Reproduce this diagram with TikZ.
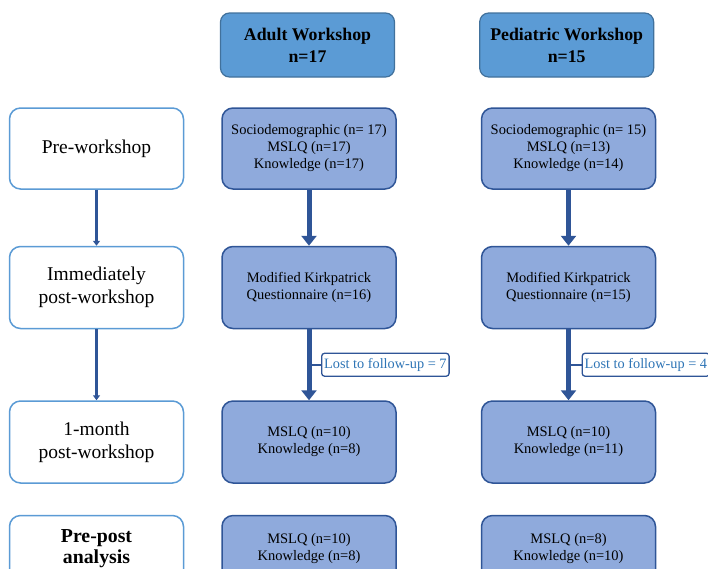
\documentclass[tikz,border=0pt]{standalone}
\usepackage{fontspec}
\setmainfont{Liberation Serif}
\usepackage{tikz}
\usetikzlibrary{arrows.meta,shapes,positioning,calc}
\usepackage{xcolor}
\definecolor{wsblue}{RGB}{47,85,151}
\definecolor{wsmidblue}{RGB}{91,155,213}
\definecolor{wsheadline}{RGB}{65,113,156}
\definecolor{wslightblue}{RGB}{143,170,220}
\definecolor{wstextblue}{RGB}{46,117,182}
\tikzstyle{thinarrow} = [line width=2.5pt,-{Triangle[width=7pt,length=5pt]},color=wsblue]
\tikzstyle{fatarrow} = [line width=5pt,-{Triangle[width=15pt,length=10pt]},color=wsblue]
\tikzstyle{branch} = [line width=2pt,color=wsblue]
\tikzstyle{headbox} = [rectangle, rounded corners=9pt, minimum width=174pt, minimum height=64pt, align=center, draw=wsheadline, fill=wsmidblue, line width=1.2pt, font=\fontsize{17.8}{22}\selectfont\bfseries]
\tikzstyle{phasebox} = [rectangle, rounded corners=11pt, minimum width=174pt, minimum height=81pt, align=center, draw=wsmidblue, fill=white, line width=1.5pt, font=\fontsize{19.5}{23}\selectfont]
\tikzstyle{databox} = [rectangle, rounded corners=11pt, minimum width=174pt, minimum height=81pt, align=center, draw=wsblue, fill=wslightblue, line width=1.5pt, font=\fontsize{14.5}{17}\selectfont]
\tikzstyle{lostbox} = [rectangle, rounded corners=3pt, inner sep=2.5pt, minimum height=23pt, draw=wsblue, fill=white, line width=1.3pt, text=wstextblue, font=\fontsize{14.3}{17}\selectfont]

\begin{document}
\begin{tikzpicture}[x=1pt,y=1pt]
\useasboundingbox (0,0) rectangle (708,-568);
% workshop headers
\node[headbox] (adulthead) at (307.5,-45) {Adult Workshop\\n=17};
\node[headbox, right=84pt of adulthead] (pedhead) {Pediatric Workshop\\n=15};
% time points
\node[phasebox] (pre) at (96.5,-148.5) {Pre-workshop};
\node[phasebox, below=56pt of pre, minimum height=82pt] (imm) {Immediately\\post-workshop};
\node[phasebox, below=71pt of imm, minimum height=82pt] (onemonth) {1-month\\post-workshop};
\node[phasebox, below=31pt of onemonth, minimum height=66pt, font=\fontsize{19.8}{21}\selectfont\bfseries] (prepost) {Pre-post\\analysis};
% adult column
\node[databox, right=37pt of pre] (adultpre) {Sociodemographic (n= 17)\\MSLQ (n=17)\\Knowledge (n=17)};
\node[databox, right=37pt of imm, minimum height=82pt] (adultimm) {Modified Kirkpatrick\\Questionnaire (n=16)};
\node[databox, right=37pt of onemonth, minimum height=82pt] (adultone) {MSLQ (n=10)\\Knowledge (n=8)};
\node[databox, right=37pt of prepost, minimum height=66pt] (adultpp) {MSLQ (n=10)\\Knowledge (n=8)};
% pediatric column
\node[databox, right=84pt of adultpre] (pedpre) {Sociodemographic (n= 15)\\MSLQ (n=13)\\Knowledge (n=14)};
\node[databox, right=84pt of adultimm, minimum height=82pt] (pedimm) {Modified Kirkpatrick\\Questionnaire (n=15)};
\node[databox, right=84pt of adultone, minimum height=82pt] (pedone) {MSLQ (n=10)\\Knowledge (n=11)};
\node[databox, right=84pt of adultpp, minimum height=66pt] (pedpp) {MSLQ (n=8)\\Knowledge (n=10)};
% arrows
\draw[thinarrow] (pre) -- (imm);
\draw[thinarrow] (imm) -- (onemonth);
\draw[fatarrow] (adultpre) -- (adultimm);
\draw[fatarrow] (adultimm) -- (adultone);
\draw[fatarrow] (pedpre) -- (pedimm);
\draw[fatarrow] (pedimm) -- (pedone);
% drop-outs
\coordinate (adultmid) at ($(adultimm.south)!0.5!(adultone.north)$);
\coordinate (pedmid) at ($(pedimm.south)!0.5!(pedone.north)$);
\node[lostbox, right=12pt of adultmid] (adultlost) {Lost to follow-up = 7};
\node[lostbox, right=13pt of pedmid] (pedlost) {Lost to follow-up = 4};
\draw[branch] (adultmid) -- (adultlost);
\draw[branch] (pedmid) -- (pedlost);
\end{tikzpicture}
\end{document}
